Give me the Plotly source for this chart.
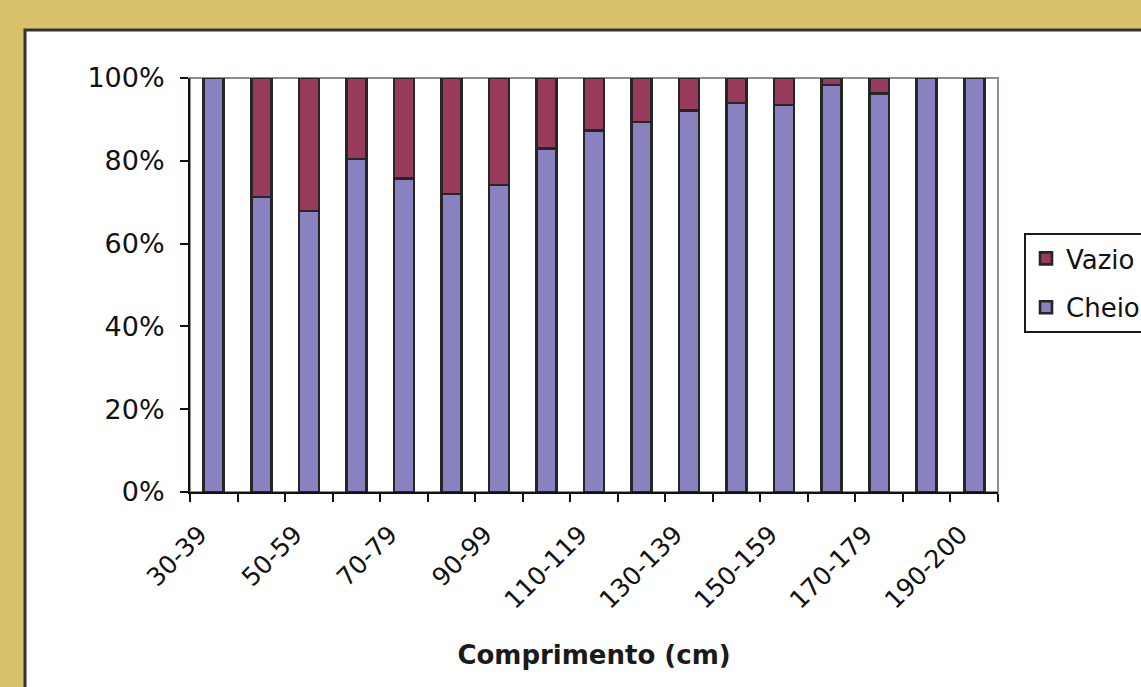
import plotly.graph_objects as go

# Length classes (cm) and share of empty vs. full stomachs per class
categories = ["30-39", "40-49", "50-59", "60-69", "70-79", "80-89", "90-99",
              "100-109", "110-119", "120-129", "130-139", "140-149", "150-159",
              "160-169", "170-179", "180-189", "190-200"]
cheio = [100, 71.3, 67.9, 80.4, 75.7, 72.0, 74.2, 83.0, 87.3, 89.4,
         92.1, 94.0, 93.5, 98.3, 96.3, 100, 100]
vazio = [0, 28.7, 32.1, 19.6, 24.3, 28.0, 25.8, 17.0, 12.7, 10.6,
         7.9, 6.0, 6.5, 1.7, 3.7, 0, 0]
# Only every other class gets a printed label
tick_labels = [c if i % 2 == 0 else "" for i, c in enumerate(categories)]

FONT = "DejaVu Sans"
OUTLINE = dict(color="#262626", width=2.6)

fig = go.Figure()
fig.add_trace(go.Bar(
    x=categories, y=[v / 100 for v in cheio], name="Cheio",
    marker=dict(color="#8882C0", line=OUTLINE),
    legendgroup="c", legendrank=2,
))
fig.add_trace(go.Bar(
    x=categories, y=[v / 100 for v in vazio], name="Vazio",
    marker=dict(color="#983A5C", line=OUTLINE),
    legendgroup="v", legendrank=1,
))

L, R, T, B = 190, 143, 78, 195
W, H = 1141, 687
pw, ph = W - L - R, H - T - B

def px(x):
    return (x - L) / pw

def py(y):
    return (H - B - y) / ph

fig.update_layout(
    width=W, height=H,
    margin=dict(l=L, r=R, t=T, b=B, pad=0, autoexpand=False),
    paper_bgcolor="#D8C16A",
    plot_bgcolor="rgba(0,0,0,0)",
    barmode="stack",
    bargap=0.58,
    font=dict(family=FONT, color="#111111", size=26),
    showlegend=True,
    legend=dict(
        x=px(1024), xanchor="left", y=py(233), yanchor="top",
        bgcolor="white", bordercolor="#1a1a1a", borderwidth=2,
        traceorder="grouped", tracegroupgap=12,
        font=dict(family=FONT, size=26, color="#111111"),
    ),
    xaxis=dict(
        type="category", categoryorder="array", categoryarray=categories,
        tickmode="array", tickvals=categories, ticktext=tick_labels,
        tickson="boundaries", ticks="outside", ticklen=8, tickwidth=2,
        tickcolor="#111111", tickangle=-45,
        ticklabelstandoff=16, ticklabelshift=-14,
        showline=True, linecolor="#111111", linewidth=2,
        showgrid=False, zeroline=False,
        tickfont=dict(family=FONT, size=25),
        title=dict(text="<b>Comprimento (cm)</b>", standoff=32,
                   font=dict(family=FONT, size=26, color="#1a1a1a")),
    ),
    yaxis=dict(
        range=[0, 1], tickmode="linear", tick0=0, dtick=0.2,
        tickformat=".0%", ticks="outside", ticklen=8, tickwidth=2,
        tickcolor="#111111", ticklabelstandoff=10,
        showline=True, linecolor="#111111", linewidth=2,
        showgrid=False, zeroline=False,
        tickfont=dict(family=FONT, size=27),
    ),
    shapes=[
        # white chart panel with dark frame
        dict(type="rect", xref="paper", yref="paper", layer="below",
             x0=px(25), x1=px(1200), y0=py(720), y1=py(30),
             fillcolor="white", line=dict(color="#333333", width=3)),
        # plot area frame
        dict(type="rect", xref="paper", yref="paper", layer="below",
             x0=0, x1=1, y0=0, y1=1,
             fillcolor="rgba(0,0,0,0)", line=dict(color="#9a8a86", width=2)),
    ],
)

fig.write_html("out.html")
